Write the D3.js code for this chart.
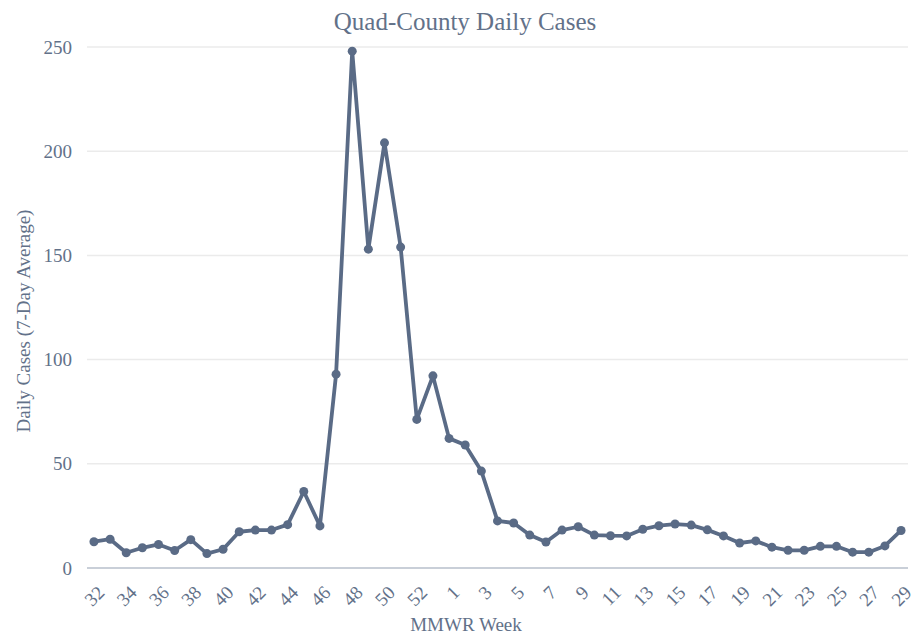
<!DOCTYPE html>
<html>
<head>
<meta charset="utf-8">
<script src="https://cdn.jsdelivr.net/npm/d3@7"></script>
<style>
  body { margin: 0; background: #fff; }
  svg text { font-family: "Liberation Serif", "Times New Roman", serif; fill: #627189; }
</style>
</head>
<body>
<div id="chart"></div>
<script>
// MMWR weeks: 32..53 of 2020, then 1..29 of 2021
const weeks = [32, 33, 34, 35, 36, 37, 38, 39, 40, 41, 42, 43, 44, 45, 46, 47, 48, 49, 50, 51, 52, 53,
  1, 2, 3, 4, 5, 6, 7, 8, 9, 10, 11, 12, 13, 14, 15, 16, 17, 18, 19, 20, 21, 22, 23, 24, 25, 26, 27, 28, 29];

const dailyCases = [12.6, 13.8, 7.3, 9.7, 11.3, 8.4, 13.6, 6.9, 9.0, 17.4, 18.2, 18.2, 20.8, 36.7, 20.2, 93, 248, 153, 204, 154, 71.3, 92.2,
  62.2, 59, 46.5, 22.6, 21.6, 15.8, 12.5, 18.2, 19.8, 15.8, 15.5, 15.4, 18.6, 20.3, 21.1, 20.6, 18.3, 15.4, 12, 13, 10, 8.5, 8.5, 10.4, 10.4, 7.6, 7.6, 10.6, 18];

const yTicks = [0, 50, 100, 150, 200, 250];

const width = 921, height = 634;
const margin = { left: 87, right: 13, top: 40, bottom: 66 };

const svg = d3.select('#chart').append('svg')
  .attr('width', width)
  .attr('height', height);

const x = d3.scaleLinear()
  .domain([-0.43, weeks.length - 1 + 0.43])
  .range([margin.left, width - margin.right]);

const y = d3.scaleLinear()
  .domain([0, 250])
  .range([568, 47]);

// gridlines
svg.append('g')
  .selectAll('line')
  .data(yTicks)
  .join('line')
  .attr('x1', margin.left)
  .attr('x2', width - margin.right)
  .attr('y1', d => y(d))
  .attr('y2', d => y(d))
  .attr('stroke', d => d === 0 ? '#c9cfd8' : '#ebebeb')
  .attr('stroke-width', d => d === 0 ? 2 : 1.5);

// y tick labels
svg.append('g')
  .selectAll('text')
  .data(yTicks)
  .join('text')
  .attr('x', 72)
  .attr('y', d => y(d))
  .attr('dy', '0.35em')
  .attr('text-anchor', 'end')
  .attr('font-size', 19)
  .text(d => d);

// x tick labels, every other week, rotated
svg.append('g')
  .selectAll('text')
  .data(weeks.map((w, i) => ({ w, i })).filter(d => d.i % 2 === 0))
  .join('text')
  .attr('transform', d => `translate(${x(d.i) + 7}, 589) rotate(-45)`)
  .attr('dy', '0.35em')
  .attr('text-anchor', 'end')
  .attr('font-size', 19)
  .text(d => d.w);

// line
const line = d3.line()
  .x((d, i) => x(i))
  .y(d => y(d));

svg.append('path')
  .datum(dailyCases)
  .attr('d', line)
  .attr('fill', 'none')
  .attr('stroke', '#5a6b86')
  .attr('stroke-width', 3.8)
  .attr('stroke-linejoin', 'round');

svg.append('g')
  .selectAll('circle')
  .data(dailyCases)
  .join('circle')
  .attr('cx', (d, i) => x(i))
  .attr('cy', d => y(d))
  .attr('r', 4.5)
  .attr('fill', '#5a6b86');

// title
svg.append('text')
  .attr('x', 465)
  .attr('y', 30)
  .attr('text-anchor', 'middle')
  .attr('font-size', 25)
  .text('Quad-County Daily Cases');

// axis titles
svg.append('text')
  .attr('x', 466)
  .attr('y', 631)
  .attr('text-anchor', 'middle')
  .attr('font-size', 19)
  .text('MMWR Week');

svg.append('text')
  .attr('transform', 'translate(30, 321) rotate(-90)')
  .attr('text-anchor', 'middle')
  .attr('font-size', 19)
  .text('Daily Cases (7-Day Average)');
</script>
</body>
</html>
